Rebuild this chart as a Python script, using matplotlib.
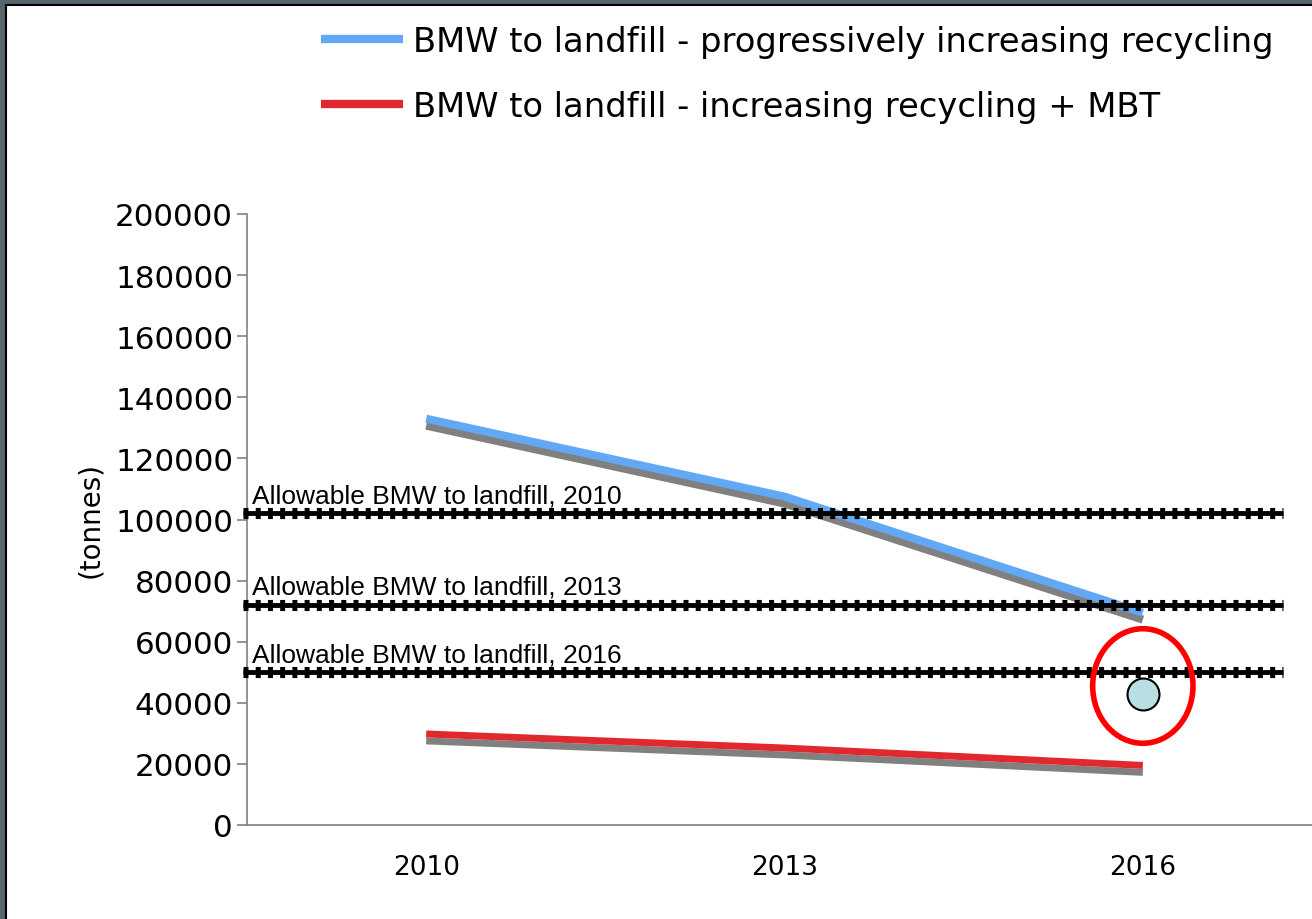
import matplotlib.pyplot as plt
import matplotlib.patheffects as pe
from matplotlib.patches import Ellipse, Rectangle

# --- data ---
years = ["2010", "2013", "2016"]
recycling = [133000, 107500, 69500]
recycling_mbt = [29800, 25200, 19500]
allowable = [102000, 72000, 50000]
allowable_labels = ["Allowable BMW to landfill, 2010",
                    "Allowable BMW to landfill, 2013",
                    "Allowable BMW to landfill, 2016"]
target_point = 42800
yticks = [0, 20000, 40000, 60000, 80000, 100000, 120000, 140000, 160000, 180000, 200000]

W, H = 1312, 920
fig = plt.figure(figsize=(W / 100, H / 100), dpi=100)
fig.patch.set_facecolor("#56666c")
fig.patches.append(Rectangle((6 / W, -0.01), 1.01, 1.01 - 6 / H, transform=fig.transFigure,
                             facecolor="white", edgecolor="black", lw=1.5, zorder=-10))

# axes: left spine at x=247, right edge beyond figure, y 0 at 826, 200000 at 215
x0, x1 = 247, 1322
ax = fig.add_axes([x0 / W, (H - 826) / H, (x1 - x0) / W, (826 - 215) / H])
ax.set_facecolor("none")
xs = list(range(len(years)))
ax.set_xlim(-0.5, 2.5)
ax.set_ylim(0, 200000)

shadow = [pe.SimpleLineShadow(offset=(0, -5), shadow_color="#808080", alpha=1), pe.Normal()]
ax.plot(xs, recycling, color="#62a8f5", lw=5.8, solid_capstyle="butt",
        path_effects=shadow, label="BMW to landfill - progressively increasing recycling", zorder=3)
ax.plot(xs, recycling_mbt, color="#e0282f", lw=5, solid_capstyle="butt",
        path_effects=shadow, label="BMW to landfill - increasing recycling + MBT", zorder=3)

# allowable limits: thick black line with cross pattern
for val, lab in zip(allowable, allowable_labels):
    ax.hlines(val, -0.51, 2.39, color="black", lw=3.5, zorder=4, clip_on=False)
    ax.hlines(val, -0.51, 2.39, color="black", lw=8, linestyles=(0, (0.45, 0.65)),
              zorder=4, clip_on=False)
    ax.text(-0.485, val + 2000, lab, family="Liberation Sans", fontsize=19,
            ha="left", va="bottom", zorder=5)

# highlighted 2016 target
ax.plot([2], [target_point], "o", ms=23, mfc="#b9dfe3", mec="black", mew=1.5, zorder=6)
ax.add_patch(Ellipse((2.0, 45500), 0.28, 37500, fill=False, ec="#ff0000", lw=4, zorder=6))

ax.set_xticks(xs)
ax.set_xticklabels(years, fontsize=19)
ax.set_yticks(yticks)
ax.set_yticklabels([str(v) for v in yticks], fontsize=22.3)
ax.tick_params(axis="x", length=0, pad=21)
ax.tick_params(axis="y", length=7, width=1.2, color="#808080", pad=3)
for s in ["top", "right"]:
    ax.spines[s].set_visible(False)
for s in ["left", "bottom"]:
    ax.spines[s].set_color("#808080")
    ax.spines[s].set_linewidth(1.2)
ax.set_ylabel("(tonnes)", fontsize=20, labelpad=8)

leg = ax.legend(loc="upper left", bbox_to_anchor=(321 / W, 1 - 26 / H),
                bbox_transform=fig.transFigure, frameon=False, fontsize=24.3,
                borderpad=0, borderaxespad=0,
                handlelength=2.43, handletextpad=0.3, labelspacing=0.95)
for line in leg.get_lines():
    line.set_path_effects([])
    line.set_linewidth(6)

fig.savefig("out.png", dpi=100)
